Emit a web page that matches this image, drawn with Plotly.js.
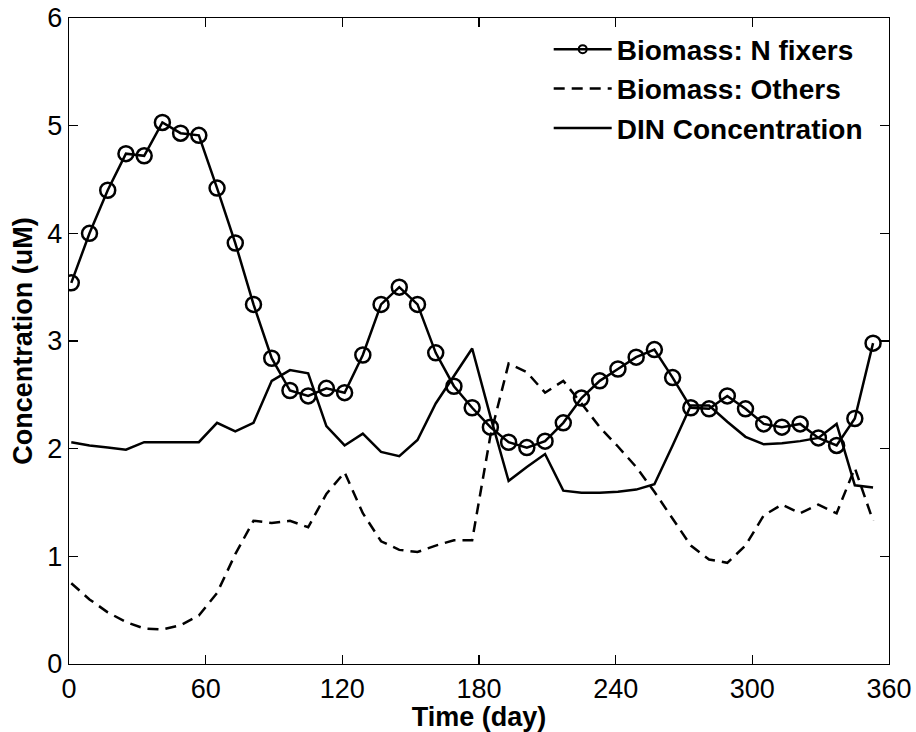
<!DOCTYPE html>
<html>
<head>
<meta charset="utf-8">
<script src="https://cdn.plot.ly/plotly-3.0.1.min.js"></script>
<style>html,body{margin:0;padding:0;background:#fff;}#chart{width:916px;height:732px;}</style>
</head>
<body>
<div id="chart"></div>
<script>
// Sampling days (every 8 days)
const days = [1,9,17,25,33,41,49,57,65,73,81,89,97,105,113,121,129,137,145,153,161,169,177,185,193,201,209,217,225,233,241,249,257,265,273,281,289,297,305,313,321,329,337,345,353];

// Biomass: N fixers
const nFixers = [3.54,4.00,4.40,4.74,4.72,5.03,4.93,4.91,4.42,3.91,3.34,2.84,2.54,2.49,2.56,2.52,2.87,3.34,3.50,3.34,2.89,2.58,2.38,2.20,2.06,2.01,2.07,2.24,2.47,2.63,2.74,2.85,2.92,2.66,2.38,2.37,2.49,2.37,2.23,2.20,2.23,2.10,2.03,2.28,2.98];

// Biomass: Others
const others = [0.75,0.60,0.48,0.39,0.33,0.32,0.36,0.45,0.66,1.02,1.33,1.31,1.33,1.27,1.58,1.78,1.40,1.14,1.06,1.04,1.10,1.15,1.15,2.12,2.79,2.71,2.52,2.63,2.42,2.20,2.02,1.83,1.60,1.35,1.10,0.97,0.94,1.10,1.38,1.48,1.40,1.48,1.40,1.82,1.33];

// DIN Concentration
const din = [2.06,2.03,2.01,1.99,2.06,2.06,2.06,2.06,2.24,2.16,2.24,2.63,2.73,2.70,2.21,2.03,2.14,1.97,1.93,2.08,2.42,2.68,2.93,2.30,1.70,1.83,1.95,1.61,1.59,1.59,1.60,1.62,1.67,2.03,2.40,2.40,2.25,2.11,2.04,2.05,2.07,2.10,2.23,1.66,1.64];

const xTicks = [0,60,120,180,240,300,360];
const yTicks = [0,1,2,3,4,5,6];
const names = ['Biomass: N fixers','Biomass: Others','DIN Concentration'];

const traces = [
  {x: days, y: nFixers, type:'scatter', mode:'lines+markers', showlegend:false,
   line:{color:'#000', width:2.5},
   marker:{symbol:'circle-open', size:15, color:'#000', line:{width:2.5, color:'#000'}}},
  {x: days, y: others, type:'scatter', mode:'lines', showlegend:false,
   line:{color:'#000', width:2.5, dash:'11px,7px'}},
  {x: days, y: din, type:'scatter', mode:'lines', showlegend:false,
   line:{color:'#000', width:2.5}},
  // legend entries
  {x:[null], y:[null], type:'scatter', mode:'lines+markers', name:names[0],
   line:{color:'#000', width:2.5},
   marker:{symbol:'circle-open', size:8, color:'#000', line:{width:2, color:'#000'}}},
  {x:[null], y:[null], type:'scatter', mode:'lines', name:names[1],
   line:{color:'#000', width:2.5, dash:'11px,7px'}},
  {x:[null], y:[null], type:'scatter', mode:'lines', name:names[2],
   line:{color:'#000', width:2.5}}
];

const layout = {
  width:916, height:732,
  margin:{l:69, r:27, t:18, b:68},
  paper_bgcolor:'#fff', plot_bgcolor:'#fff',
  font:{family:'"Liberation Sans", Arial, sans-serif', color:'#000'},
  xaxis:{
    range:[0,360], tickvals:xTicks, ticktext:xTicks.map(String),
    ticks:'inside', ticklen:9, tickwidth:1.3, tickcolor:'#000',
    showline:true, linecolor:'#000', linewidth:1.3, mirror:'ticks',
    showgrid:false, zeroline:false,
    tickfont:{size:27, color:'#000'},
    title:{text:'Time (day)', font:{size:27, color:'#000', weight:'bold'}, standoff:4}
  },
  yaxis:{
    range:[0,6], tickvals:yTicks, ticktext:yTicks.map(String),
    ticks:'inside', ticklen:9, tickwidth:1.3, tickcolor:'#000',
    showline:true, linecolor:'#000', linewidth:1.3, mirror:'ticks',
    showgrid:false, zeroline:false,
    tickfont:{size:27, color:'#000'},
    title:{text:'Concentration (uM)', font:{size:27, color:'#000', weight:'bold'}, standoff:6}
  },
  legend:{
    x:0.585, y:0.99, xanchor:'left', yanchor:'top',
    bgcolor:'rgba(0,0,0,0)', borderwidth:0,
    font:{size:28, color:'#000', weight:'bold'},
    itemwidth:58, tracegroupgap:0
  },
  showlegend:true
};

Plotly.newPlot('chart', traces, layout, {displayModeBar:false, staticPlot:true});
</script>
</body>
</html>
